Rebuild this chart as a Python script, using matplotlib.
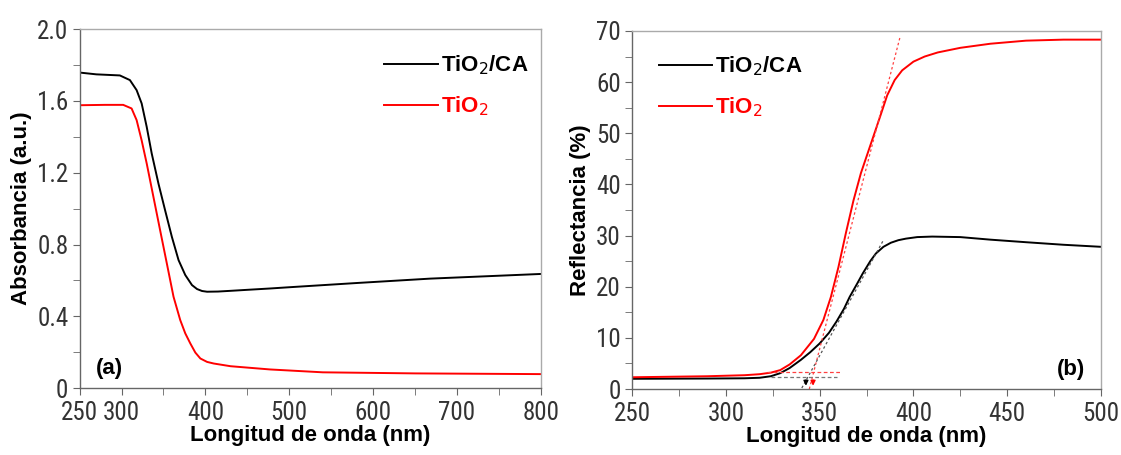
import numpy as np
import matplotlib.pyplot as plt
from matplotlib import font_manager
from matplotlib.ticker import MultipleLocator

# (a) absorbance
wl_a_ca = [250, 270, 298, 310, 318, 324, 330, 336, 344, 352, 360, 368, 376, 384, 390, 396, 402, 415, 430, 455, 477, 500, 582, 668, 800]
abs_ca = [1.758, 1.748, 1.742, 1.716, 1.66, 1.586, 1.456, 1.307, 1.14, 0.99, 0.843, 0.713, 0.63, 0.574, 0.552, 0.541, 0.537, 0.538, 0.542, 0.549, 0.555, 0.562, 0.586, 0.61, 0.636]
wl_a_ti = [250, 280, 302, 312, 318, 324, 330, 338, 346, 354, 362, 370, 376, 382, 388, 394, 402, 410, 430, 477, 540, 650, 800]
abs_ti = [1.576, 1.578, 1.578, 1.558, 1.493, 1.38, 1.252, 1.066, 0.88, 0.695, 0.509, 0.379, 0.305, 0.249, 0.198, 0.165, 0.146, 0.137, 0.122, 0.104, 0.088, 0.082, 0.078]

# (b) reflectance
wl_b_ca = [250, 290, 310, 318, 324, 329, 334, 340, 345, 350, 355, 359, 363, 366, 370, 373, 377, 380, 384, 388, 392, 396, 402, 410, 425, 441, 460, 480, 500]
ref_ca = [2.0, 2.05, 2.1, 2.2, 2.5, 3.1, 4.1, 5.7, 7.2, 8.9, 11.0, 13.2, 15.7, 18.0, 20.6, 22.6, 25.0, 26.5, 27.8, 28.6, 29.1, 29.4, 29.7, 29.8, 29.7, 29.2, 28.7, 28.2, 27.8]
wl_b_ti = [250, 290, 310, 318, 324, 329, 334, 340, 347, 352, 356, 360, 364, 368, 372, 377, 382, 386, 390, 394, 400, 406, 413, 425, 441, 460, 480, 500]
ref_ti = [2.3, 2.5, 2.7, 2.9, 3.2, 3.7, 4.8, 6.6, 9.8, 13.5, 18.0, 23.8, 30.5, 36.8, 42.2, 47.6, 53.0, 57.4, 60.4, 62.3, 64.0, 65.0, 65.8, 66.7, 67.5, 68.1, 68.3, 68.3]

# tangent / baseline guides (wavelength, reflectance)
tan_ti = ([344.5, 393], [0, 69])
tan_ca = ([340.5, 384], [0.2, 29.1])
base_ti = ([322, 362], [3.26, 3.26])
base_ca = ([324, 359], [2.28, 2.28])
edge_ca, edge_ti = 342.7, 346.5

# narrow font for tick labels if one exists, else plain Liberation Sans
installed = {f.name for f in font_manager.fontManager.ttflist}
narrow = [n for n in ['Liberation Sans Narrow', 'Arial Narrow', 'Roboto Condensed',
                      'Open Sans Condensed', 'DejaVu Sans Condensed'] if n in installed]
if narrow:
    tick_family, tick_size = narrow[0], 18
else:
    tick_family, tick_size = 'Liberation Sans', 16
lab_font = ['Liberation Sans', 'DejaVu Sans']
gray = '#333333'

fig = plt.figure(figsize=(11.21, 4.55), dpi=100)
ax1 = fig.add_axes([0.0710, 0.147, 0.4115, 0.789])
ax2 = fig.add_axes([0.5638, 0.145, 0.4184, 0.787])

ax1.plot(wl_a_ca, abs_ca, color='black', lw=1.4, label='TiO$_2$/CA')
ax1.plot(wl_a_ti, abs_ti, color='#ff0000', lw=1.4, label='TiO$_2$')
ax1.set_xlim(250, 800)
ax1.set_ylim(0, 2.0)
ax1.set_xticks([250, 300, 400, 500, 600, 700, 800])
ax1.xaxis.set_minor_locator(MultipleLocator(50))
ax1.set_yticks([0, 0.4, 0.8, 1.2, 1.6, 2.0])
ax1.set_yticklabels(['0', '0.4', '0.8', '1.2', '1.6', '2.0'])
ax1.yaxis.set_minor_locator(MultipleLocator(0.2))
ax1.set_ylabel('Absorbancia (a.u.)')
ax1.text(0.035, 0.04, '(a)', transform=ax1.transAxes, fontsize=16, fontweight='bold', family=lab_font)

ax2.plot(wl_b_ca, ref_ca, color='black', lw=1.4, label='TiO$_2$/CA')
ax2.plot(wl_b_ti, ref_ti, color='#ff0000', lw=1.4, label='TiO$_2$')
ax2.plot(*tan_ti, color='#ff4040', ls=(0, (2, 2)), lw=0.9)
ax2.plot(*tan_ca, color='#555555', ls=(0, (2, 2)), lw=0.9)
ax2.plot(*base_ti, color='#ff4040', ls=(0, (3, 2)), lw=0.9)
ax2.plot(*base_ca, color='#777777', ls=(0, (3, 2)), lw=0.9)
ax2.annotate('', xy=(edge_ca, 0.1), xytext=(edge_ca, 2.3),
             arrowprops=dict(arrowstyle='-|>', color='black', lw=1, mutation_scale=7))
ax2.annotate('', xy=(edge_ti, 0.1), xytext=(edge_ti, 2.3),
             arrowprops=dict(arrowstyle='-|>', color='#ff0000', lw=1, mutation_scale=7))
ax2.set_xlim(250, 500)
ax2.set_ylim(0, 70)
ax2.xaxis.set_major_locator(MultipleLocator(50))
ax2.xaxis.set_minor_locator(MultipleLocator(25))
ax2.yaxis.set_major_locator(MultipleLocator(10))
ax2.yaxis.set_minor_locator(MultipleLocator(5))
ax2.set_ylabel('Reflectancia (%)')
ax2.text(0.905, 0.04, '(b)', transform=ax2.transAxes, fontsize=16, fontweight='bold', family=lab_font)

for ax in (ax1, ax2):
    ax.set_xlabel('Longitud de onda (nm)')
    for lbl in (ax.xaxis.label, ax.yaxis.label):
        lbl.set_fontsize(16)
        lbl.set_fontweight('bold')
        lbl.set_family(lab_font)
    ax.xaxis.labelpad = 0
    ax.yaxis.labelpad = 4
    ax.tick_params(which='both', direction='out', colors='#666666', labelcolor=gray,
                   labelsize=tick_size, pad=2, length=5)
    ax.tick_params(axis='x', which='both', pad=4)
    ax.tick_params(axis='y', which='both', pad=3)
    for t in ax.get_xticklabels() + ax.get_yticklabels():
        t.set_family(tick_family)
    for s in ax.spines.values():
        s.set_color('#666666')
        s.set_linewidth(1.0)
    ax.spines['top'].set_color('#aaaaaa')
    ax.spines['right'].set_color('#aaaaaa')

ax1.legend(loc='upper left', bbox_to_anchor=(0.617, 0.988), frameon=False,
           prop={'family': lab_font, 'weight': 'bold', 'size': 16},
           handlelength=2.4, handletextpad=0.15, labelspacing=0.8, labelcolor='linecolor')
ax2.legend(loc='upper left', bbox_to_anchor=(0.014, 0.99), frameon=False,
           prop={'family': lab_font, 'weight': 'bold', 'size': 16},
           handlelength=2.4, handletextpad=0.15, labelspacing=0.8, labelcolor='linecolor')

fig.savefig('out.png', dpi=100)
